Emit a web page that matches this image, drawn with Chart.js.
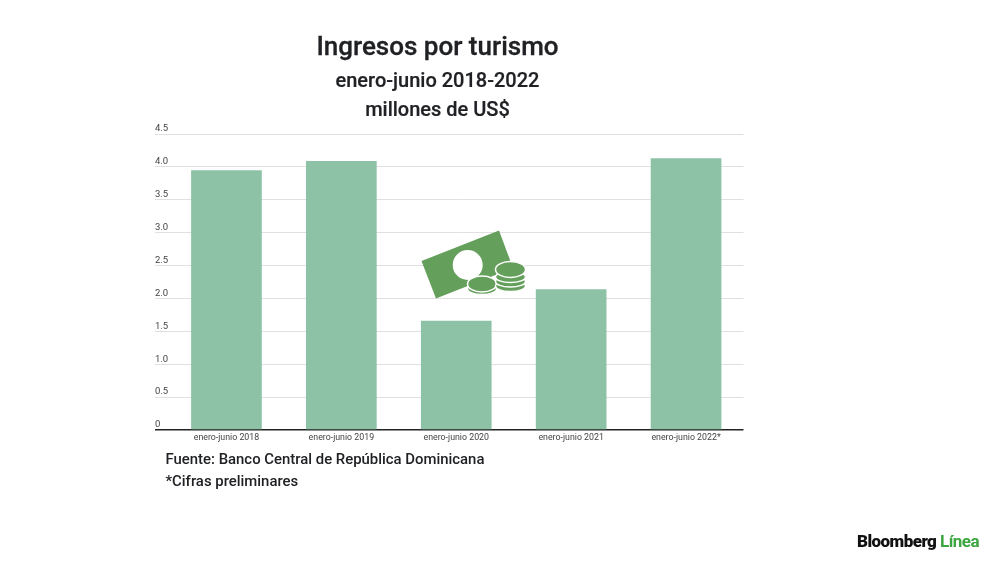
<!DOCTYPE html>
<html lang="es">
<head>
<meta charset="utf-8">
<script src="https://cdn.jsdelivr.net/npm/chart.js@4/dist/chart.umd.min.js"></script>
<style>
html,body{margin:0;padding:0;background:#fff;width:1000px;height:562px;overflow:hidden;font-family:Roboto,sans-serif}
#wrap{position:relative;width:1000px;height:562px}
canvas{position:absolute;left:0;top:0}
.t{position:absolute;white-space:nowrap;color:#202124;font-family:Roboto,sans-serif}
.c{left:437.5px;transform:translateX(-50%);font-weight:500}
svg{position:absolute;left:0;top:0}
</style>
</head>
<body>
<div id="wrap">
<canvas id="c" width="1000" height="562"></canvas>
<div class="t c" style="top:30px;font-size:26px;line-height:32px;-webkit-text-stroke:.3px #202124">Ingresos por turismo</div>
<div class="t c" style="top:67px;font-size:20px;line-height:26px;-webkit-text-stroke:.2px #202124">enero-junio 2018-2022</div>
<div class="t c" style="top:96px;font-size:20px;line-height:26px;-webkit-text-stroke:.2px #202124">millones de US$</div>
<div class="t" style="left:165.5px;top:449px;font-size:14.9px;line-height:20px;font-weight:500">Fuente: Banco Central de República Dominicana</div>
<div class="t" style="left:165.5px;top:471px;font-size:14.9px;line-height:20px;font-weight:500">*Cifras preliminares</div>
<div class="t" style="left:857px;top:531px;font-size:17px;line-height:20px;font-weight:900;letter-spacing:-.55px;color:#111">Bloomberg <span style="color:#3ba53f;font-weight:700">Línea</span></div>
<svg width="1000" height="562" viewBox="0 0 1000 562">
  <polygon points="421.5,261 499,230.5 513,268 436,298.5" fill="#659f5c"/>
  <circle cx="467.7" cy="265" r="15" fill="#fff"/>
  <g fill="#659f5c" stroke="#fff" stroke-width="1.5">
    <ellipse cx="482" cy="289" rx="14.5" ry="5.5"/>
    <ellipse cx="482" cy="284" rx="14.5" ry="8"/>
    <ellipse cx="510.5" cy="286" rx="15" ry="5.5"/>
    <ellipse cx="510.5" cy="281.5" rx="15" ry="5.5"/>
    <ellipse cx="510.5" cy="277" rx="15" ry="5.5"/>
    <ellipse cx="510.5" cy="269.5" rx="15" ry="8"/>
  </g>
</svg>
</div>
<script>
const categories = ["enero-junio 2018","enero-junio 2019","enero-junio 2020","enero-junio 2021","enero-junio 2022*"];
const ingresos = [3.95, 4.09, 1.66, 2.14, 4.13];
const yTicks = [0, 0.5, 1, 1.5, 2, 2.5, 3, 3.5, 4, 4.5];
const yMax = 4.5;

new Chart(document.getElementById('c'), {
  type: 'bar',
  data: {
    labels: categories,
    datasets: [{
      data: ingresos,
      backgroundColor: '#8dc2a6',
      categoryPercentage: 1,
      barPercentage: 0.615
    }]
  },
  options: {
    responsive: false,
    animation: false,
    devicePixelRatio: 1,
    layout: { padding: { left: 155, right: 256.5, top: 134, bottom: 112 } },
    plugins: { legend: { display: false }, title: { display: false }, tooltip: { enabled: false } },
    scales: {
      x: {
        grid: { display: false, drawTicks: false, tickLength: 0 },
        border: { display: false },
        ticks: {
          color: '#444',
          font: { family: 'Roboto', size: 8.8 },
          maxRotation: 0,
          autoSkip: false,
          padding: 3
        },
        afterFit(s) { s.height = 20; }
      },
      y: {
        min: 0,
        max: yMax,
        afterBuildTicks(s) { s.ticks = yTicks.map(v => ({ value: v })); },
        afterFit(s) { s.width = 14; },
        border: { display: false },
        grid: {
          tickLength: 14,
          color: c => c.tick.value === 0 ? '#222' : '#e0e0e0',
          lineWidth: c => c.tick.value === 0 ? 1.5 : 1
        },
        ticks: {
          color: '#444',
          font: { family: 'Roboto', size: 9.5 },
          crossAlign: 'far',
          padding: 0,
          labelOffset: -5,
          callback: v => v === 0 ? '0' : v.toFixed(1)
        }
      }
    }
  }
});
</script>
</body>
</html>
